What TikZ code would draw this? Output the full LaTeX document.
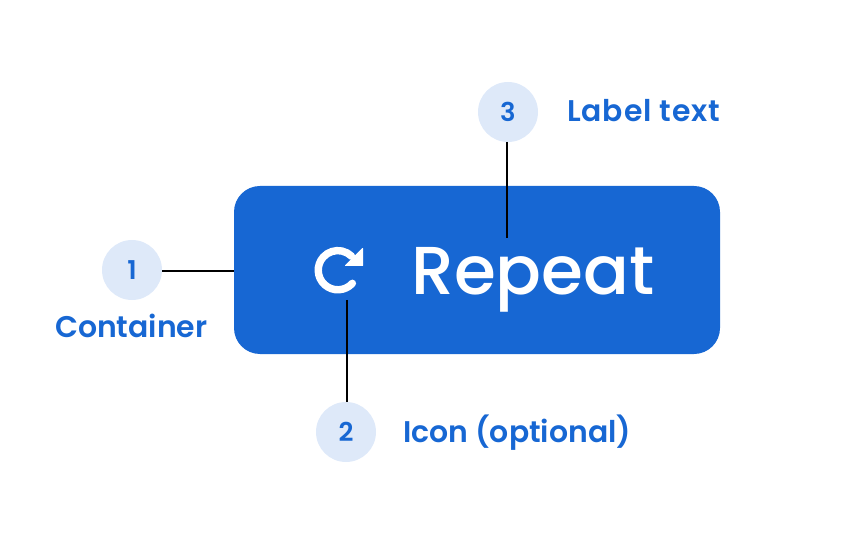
\documentclass[tikz,border=0pt]{standalone}
\usepackage{fontspec}
\setmainfont{Poppins}
\newfontfamily\medfont{Poppins Medium}
\newfontfamily\semifont{Poppins SemiBold}
\definecolor{bluemain}{HTML}{1767D3}
\definecolor{bluepale}{HTML}{DEE9F9}
\tikzset{
  badge/.style={circle,fill=bluepale,minimum size=60bp,inner sep=0pt,text=bluemain,font=\fontsize{26}{30}\selectfont\semifont},
  lab/.style={text=bluemain,inner sep=0pt,font=\fontsize{30}{34}\selectfont\semifont},
  leader/.style={draw=black,line width=1.6bp}
}
\begin{document}
\begin{tikzpicture}[x=1bp,y=-1bp]
\useasboundingbox (0,0) rectangle (846,542);
\node[fill=bluemain,rounded corners=26bp,minimum width=486bp,minimum height=168bp,inner sep=0pt] (box) at (477,270) {};
\node[badge] (b1) at (132,270) {1};
\node[badge] (b2) at (346,432) {2};
\node[badge] (b3) at (508,112) {3};
\node[lab,anchor=base west] (l1) at (55,338) {Container};
\node[lab,anchor=base west] (l2) at (403,442) {Icon (optional)};
\node[lab,anchor=base west] (l3) at (567,122) {\addfontfeatures{LetterSpace=3}Label text};
\node[text=white,inner sep=0pt,anchor=base west,font=\fontsize{68}{80}\selectfont\medfont] (rep) at (411,295) {Repeat};
\coordinate (c1) at (234,271);
\coordinate (c2) at (347,300);
\coordinate (c2b) at (347,402);
\coordinate (c3a) at (507,142);
\coordinate (c3) at (507,238);
\coordinate (c1a) at (162,271);
\draw[leader] (c1a) -- (c1);
\draw[leader] (c2) -- (c2b);
\draw[leader] (c3a) -- (c3);
\draw[white,line width=7.4bp,line cap=round] (352.4,283.3) arc (-42:-315:19.6bp);
\fill[white,draw=white,line width=1bp,line join=round] (362.5,248.5) -- (362.5,265.5) -- (345.5,265.5) -- cycle;
\end{tikzpicture}
\end{document}
